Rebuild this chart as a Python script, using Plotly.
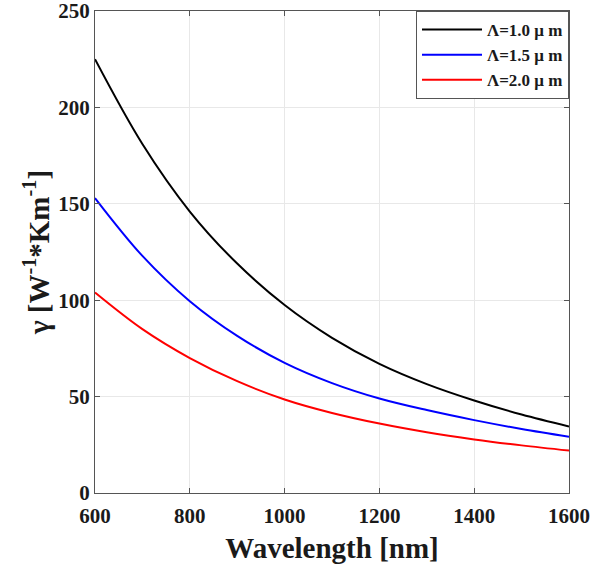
import plotly.graph_objects as go

wavelength = [600, 700, 800, 900, 1000, 1100, 1200, 1300, 1400, 1500, 1600]
gamma_10 = [225, 181, 146, 119, 97.5, 80.5, 67, 56.5, 48, 40.7, 34.5]
gamma_15 = [153, 123, 99.5, 81.5, 67.5, 57, 49, 43, 37.8, 33.2, 29.2]
gamma_20 = [104, 85, 70, 58, 48.5, 41.5, 36, 31.5, 27.8, 24.7, 22]
names = ["Λ=1.0 μ m", "Λ=1.5 μ m", "Λ=2.0 μ m"]
colors = ["#000000", "#0000ff", "#ff0000"]

font_fam = "Liberation Serif"
fig = go.Figure()
for i, (ys, n, c) in enumerate(zip([gamma_10, gamma_15, gamma_20], names, colors)):
    fig.add_trace(go.Scatter(x=wavelength, y=ys, mode="lines", name=n,
                             legendgroup=f"g{i}",
                             line=dict(color=c, width=2, shape="spline", smoothing=1.0)))

axis_common = dict(showline=True, linecolor="#555555", linewidth=1, mirror="ticks",
                   ticks="inside", ticklen=5, tickcolor="#555555",
                   showgrid=True, gridcolor="#e8e8e8", gridwidth=1, zeroline=False,
                   automargin=False, ticklabeloverflow="allow",
                   tickfont=dict(family=font_fam, size=21, color="#1a1a1a", weight="bold"))

fig.update_layout(
    width=594, height=572,
    margin=dict(l=95, r=25, t=11, b=79),
    paper_bgcolor="white", plot_bgcolor="white",
    font=dict(family=font_fam, color="#1a1a1a"),
    xaxis=dict(range=[600, 1600], tickvals=[600, 800, 1000, 1200, 1400, 1600],
               ticklabelstandoff=4,
               title=dict(text="Wavelength [nm]", font=dict(size=29, family=font_fam, weight="bold"), standoff=10),
               **axis_common),
    yaxis=dict(range=[0, 250], tickvals=[0, 50, 100, 150, 200, 250],
               title=dict(text="γ [W<sup>-1</sup>*Km<sup>-1</sup>]", font=dict(size=29, family=font_fam, weight="bold"), standoff=0),
               **axis_common),
    legend=dict(x=1, xanchor="right", y=1, yanchor="top",
                bgcolor="white", bordercolor="#555555", borderwidth=1,
                font=dict(family=font_fam, size=17, color="#1a1a1a", weight="bold"),
                itemwidth=60, tracegroupgap=0),
    showlegend=True,
)

fig.write_html("out.html", config={"displayModeBar": False},
               post_script="document.body.style.margin='0';document.body.style.overflow='hidden';")
